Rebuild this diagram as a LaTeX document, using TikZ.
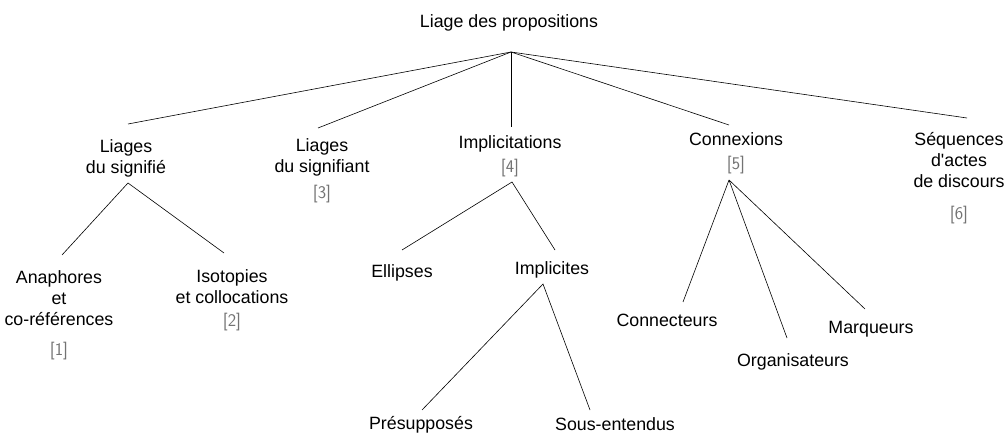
\documentclass[tikz,border=0pt]{standalone}
\usepackage{fontspec}
\setmainfont{Liberation Sans}
\usetikzlibrary{positioning}
\newcommand{\refnum}[1]{{\sffamily\color{black!55}[#1]}}

\begin{document}
\begin{tikzpicture}[x=1pt,y=-1pt,
  lbl/.style={font=\fontsize{17.8}{21}\selectfont, align=center, inner sep=0pt},
  edge/.style={line width=0.6pt}]
\useasboundingbox (0,0) rectangle (1006,435);
% Root
\node[lbl] (root) at (509,23) {Liage des propositions};
\coordinate (root-b) at (511,52);
% First level
\node[lbl] (sig) at (126,158) {Liages\\du signifié};
\node[lbl] (sgt) at (322,171) {Liages\\du signifiant\\[5pt]\refnum{3}};
\node[lbl] (imp) at (510,156) {Implicitations\\[3pt]\refnum{4}};
\node[lbl] (con) at (736,153) {Connexions\\[3pt]\refnum{5}};
\node[lbl] (seq) at (959,178) {Séquences\\d\textquotesingle actes\hspace*{26pt}\\de discours\\[11pt]\refnum{6}};
\coordinate (sig-t) at (128,124);
\coordinate (sgt-t) at (318,128);
\coordinate (imp-t) at (511,127);
\coordinate (con-t) at (729,125);
\coordinate (seq-t) at (967,118);
\foreach \n in {sig,sgt,imp,con,seq}
  \draw[edge] (root-b) -- (\n-t);
% Under Liages du signifie
\coordinate (sig-b) at (128,183);
\node[lbl] (ana) at (59,315) {Anaphores\\et\\co-références\\[9pt]\refnum{1}};
\node[lbl] (iso) at (232,300) {Isotopies\\et collocations\\[2pt]\refnum{2}};
\coordinate (ana-t) at (62,255);
\coordinate (iso-t) at (224,253);
\draw[edge] (ana-t) -- (sig-b) -- (iso-t);
% Under Implicitations
\coordinate (imp-b) at (512,182);
\node[lbl] (ell) at (402,273) {Ellipses};
\node[lbl] (ipl) at (552,270) {Implicites};
\coordinate (ell-t) at (402,250);
\coordinate (ipl-t) at (555,250);
\draw[edge] (ell-t) -- (imp-b) -- (ipl-t);
% Under Implicites
\coordinate (ipl-b) at (543,284);
\node[lbl] (pre) at (421,425) {Présupposés};
\node[lbl] (sou) at (615,424) {Sous-entendus};
\coordinate (pre-t) at (422,410);
\coordinate (sou-t) at (590,410);
\draw[edge] (pre-t) -- (ipl-b) -- (sou-t);
% Under Connexions
\coordinate (con-b) at (729,180);
\node[lbl] (cnt) at (667,320) {Connecteurs};
\node[lbl] (org) at (793,362) {Organisateurs};
\node[lbl] (mar) at (871,329) {Marqueurs};
\coordinate (cnt-t) at (683,302);
\coordinate (org-t) at (787,338);
\coordinate (mar-t) at (865,309);
\foreach \n in {cnt,org,mar}
  \draw[edge] (con-b) -- (\n-t);
\end{tikzpicture}
\end{document}
